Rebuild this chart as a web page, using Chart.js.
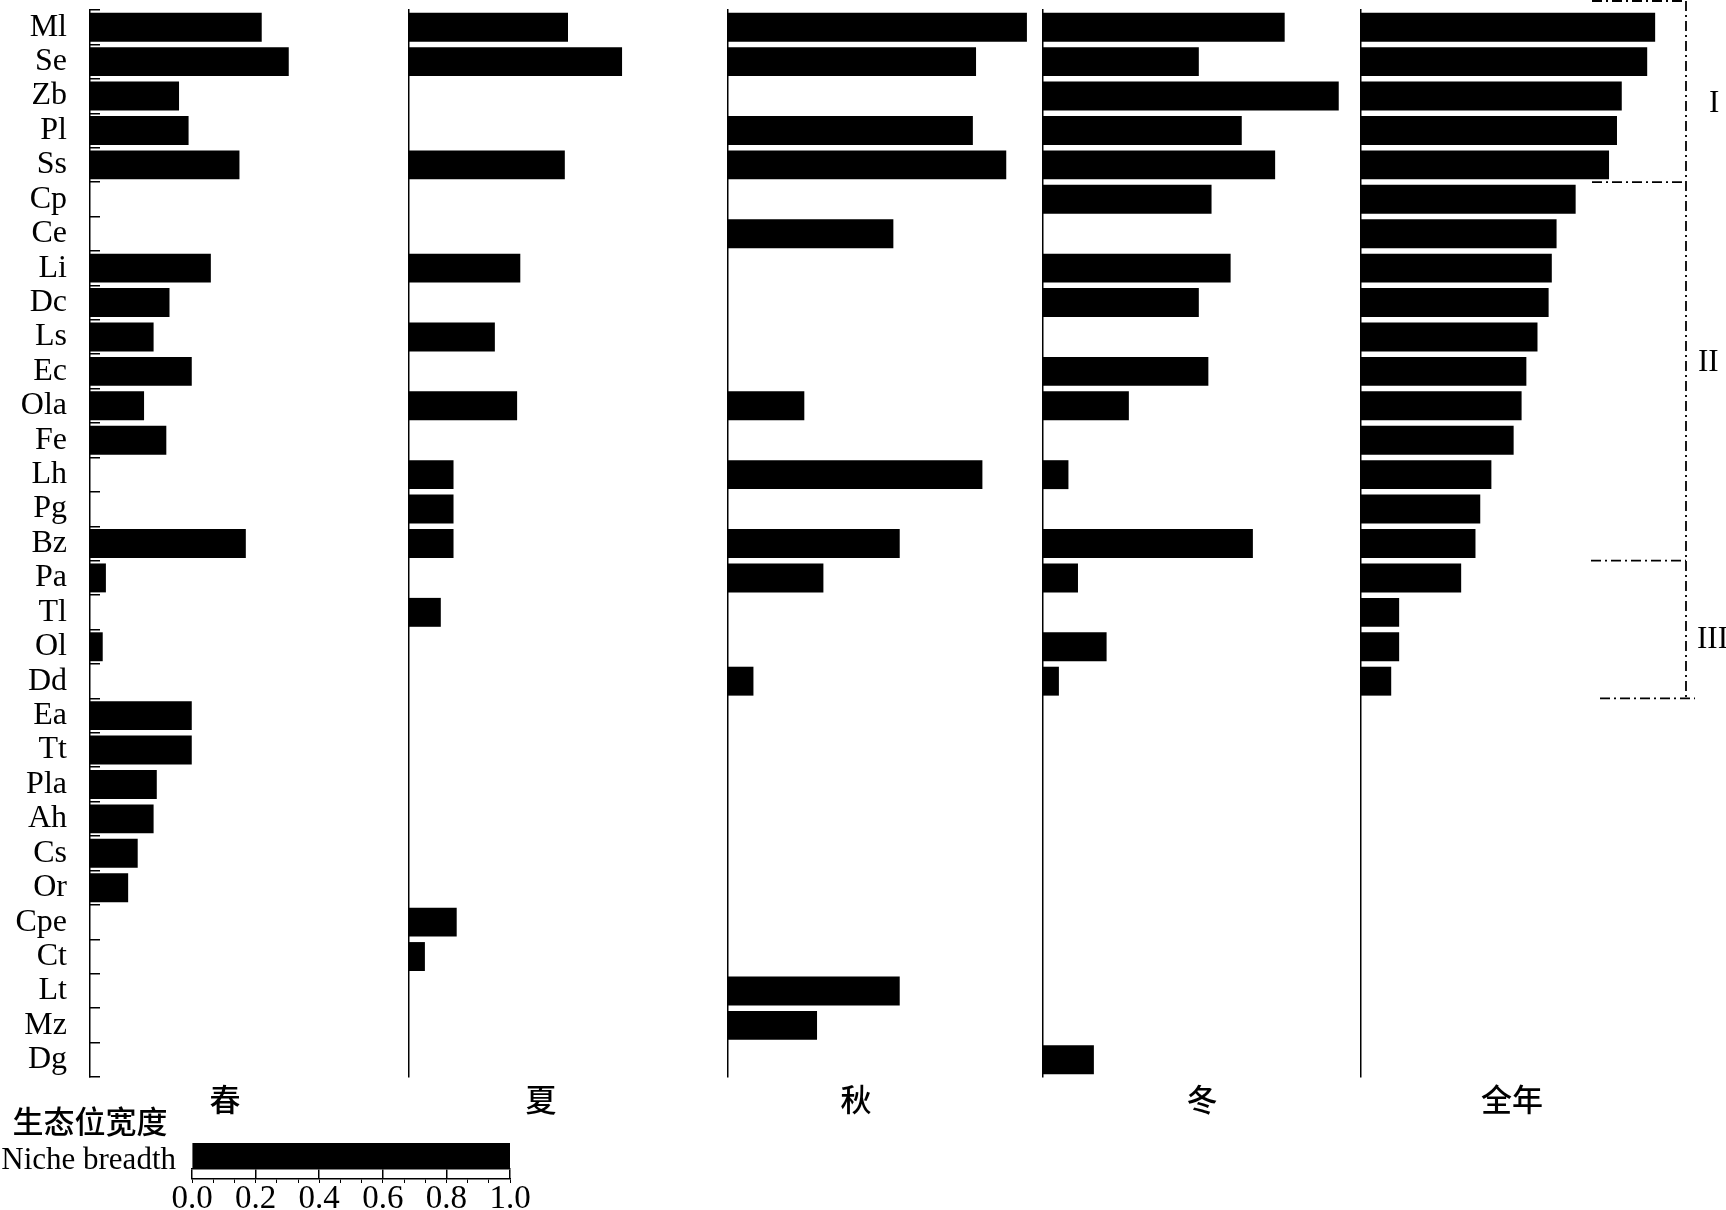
<!DOCTYPE html>
<html>
<head>
<meta charset="utf-8">
<script src="https://cdn.jsdelivr.net/npm/chart.js@4.4.1/dist/chart.umd.min.js"></script>
<style>
body{margin:0;background:#fff;width:1726px;height:1210px;overflow:hidden;position:relative;font-family:"Liberation Serif",serif;color:#000}
canvas{position:absolute}
.t{position:absolute;white-space:nowrap;line-height:1}
.cn{font-family:"Noto Sans CJK SC";font-size:31px;font-weight:500;transform:translate(-50%,-50%)}
.rm{font-size:31px;transform:translateY(-50%)}
</style>
</head>
<body>
<canvas id="spring"></canvas>
<canvas id="summer"></canvas>
<canvas id="autumn"></canvas>
<canvas id="winter"></canvas>
<canvas id="annual"></canvas>
<canvas id="legend"></canvas>

<div class="t cn" style="left:225px;top:1097px">春</div>
<div class="t cn" style="left:541px;top:1097px">夏</div>
<div class="t cn" style="left:856px;top:1097px">秋</div>
<div class="t cn" style="left:1202px;top:1097px">冬</div>
<div class="t cn" style="left:1512px;top:1097px">全年</div>
<div class="t cn" style="left:90px;top:1119px">生态位宽度</div>
<div class="t rm" style="right:1550px;top:1158px">Niche breadth</div>
<div class="t rm" style="left:1709px;top:101px">I</div>
<div class="t rm" style="left:1698px;top:360px">II</div>
<div class="t rm" style="left:1697px;top:637px">III</div>

<script>
const categories = ['Ml','Se','Zb','Pl','Ss','Cp','Ce','Li','Dc','Ls','Ec','Ola','Fe','Lh','Pg','Bz','Pa','Tl','Ol','Dd','Ea','Tt','Pla','Ah','Cs','Or','Cpe','Ct','Lt','Mz','Dg'];

const springVals = [0.54,0.625,0.28,0.31,0.47,0,0,0.38,0.25,0.20,0.32,0.17,0.24,0,0,0.49,0.05,0,0.04,0,0.32,0.32,0.21,0.20,0.15,0.12,0,0,0,0,0];
const summerVals = [0.50,0.67,0,0,0.49,0,0,0.35,0,0.27,0,0.34,0,0.14,0.14,0.14,0,0.10,0,0,0,0,0,0,0,0,0.15,0.05,0,0,0];
const autumnVals = [0.94,0.78,0,0.77,0.875,0,0.52,0,0,0,0,0.24,0,0.80,0,0.54,0.30,0,0,0.08,0,0,0,0,0,0,0,0,0.54,0.28,0];
const winterVals = [0.76,0.49,0.93,0.625,0.73,0.53,0,0.59,0.49,0,0.52,0.27,0,0.08,0,0.66,0.11,0,0.20,0.05,0,0,0,0,0,0,0,0,0,0,0.16];
const annualVals = [0.925,0.90,0.82,0.805,0.78,0.675,0.615,0.60,0.59,0.555,0.52,0.505,0.48,0.41,0.375,0.36,0.315,0.12,0.12,0.095,0,0,0,0,0,0,0,0,0,0,0];

// rows where each group (I, II, III) starts, plus the end of the last one
const groupEdges = [0, 5, 16, 20];

const legendValue = [1];
const legendTickLabels = ['0.0','0.2','0.4','0.6','0.8','1.0'];

const FONT = 'Liberation Serif';
const SPAN = 318;   // pixels for 0..1

// dash-dot bracket on the right of the annual panel
const bracket = {
  id: 'bracket',
  afterDraw(chart) {
    const ctx = chart.ctx, y = chart.scales.y, L = chart.chartArea.left;
    const half = (y.getPixelForValue(1) - y.getPixelForValue(0)) / 2;
    const edge = i => y.getPixelForValue(i) - half;
    const vx = L + 325;
    ctx.save();
    ctx.strokeStyle = '#000';
    ctx.lineWidth = 1.8;
    ctx.setLineDash([10, 4, 2, 4]);
    const top = edge(groupEdges[0]) - 9;
    const bottom = edge(groupEdges[3]);
    ctx.beginPath();
    ctx.moveTo(vx, top); ctx.lineTo(vx, bottom);
    ctx.moveTo(L + 231, top); ctx.lineTo(vx, top);
    ctx.moveTo(L + 231, edge(groupEdges[1])); ctx.lineTo(vx, edge(groupEdges[1]));
    ctx.moveTo(L + 230, edge(groupEdges[2])); ctx.lineTo(vx, edge(groupEdges[2]));
    ctx.moveTo(L + 239, bottom); ctx.lineTo(L + 334, bottom);
    ctx.stroke();
    ctx.restore();
  }
};

function panel(id, axisX, width, vals, first, extra) {
  const cv = document.getElementById(id);
  cv.width = width; cv.height = 1090;
  cv.style.left = (axisX - 90) + 'px';
  cv.style.top = '0px';
  return new Chart(cv, {
    type: 'bar',
    data: {
      labels: categories,
      datasets: [{ data: vals, backgroundColor: '#000', borderWidth: 0, barPercentage: 0.84, categoryPercentage: 1 }]
    },
    options: {
      indexAxis: 'y',
      responsive: false,
      animation: false,
      layout: { padding: { top: 10, bottom: 13, left: 0, right: width - 90 - SPAN } },
      plugins: { legend: { display: false }, tooltip: { enabled: false } },
      scales: {
        x: { display: false, min: 0, max: 1 },
        y: {
          afterFit: s => { s.width = 90; s.paddingTop = 0; s.paddingBottom = 0; },
          border: { display: true, color: '#000', width: 1.5 },
          grid: { display: true, drawOnChartArea: false, drawTicks: first, tickLength: -10, color: '#000', lineWidth: 1.5, offset: true },
          ticks: { display: first, autoSkip: false, color: '#000', padding: 33, font: { family: FONT, size: 32 } }
        }
      }
    },
    plugins: extra ? [extra] : []
  });
}

panel('spring', 90, 420, springVals, true);
panel('summer', 409, 420, summerVals, false);
panel('autumn', 728, 420, autumnVals, false);
panel('winter', 1043, 420, winterVals, false);
panel('annual', 1361, 1726 - 1361 + 90, annualVals, false, bracket);

// legend scale bar
const lg = document.getElementById('legend');
lg.width = 400; lg.height = 100;
lg.style.left = '150px'; lg.style.top = '1130px';
const minorTicks = [];
for (let i = 0; i <= 15; i++) minorTicks.push(i * 0.2 / 3);

new Chart(lg, {
  type: 'bar',
  data: {
    labels: ['Niche breadth'],
    datasets: [{ data: legendValue, backgroundColor: '#000', borderWidth: 0, barPercentage: 1, categoryPercentage: 1 }]
  },
  options: {
    indexAxis: 'y',
    responsive: false,
    animation: false,
    layout: { padding: { left: 42, right: 40, top: 13, bottom: 11 } },
    plugins: { legend: { display: false }, tooltip: { enabled: false } },
    scales: {
      y: { display: false },
      x: {
        min: 0, max: 1, weight: 0,
        afterFit: s => { s.height = 10; },
        border: { display: true, color: '#000', width: 1.5 },
        grid: { drawOnChartArea: false, tickLength: 10, color: '#000', lineWidth: 1.5 },
        ticks: { display: false, stepSize: 0.2 }
      },
      x2: {
        type: 'linear', position: 'bottom', min: 0, max: 1, weight: 1,
        afterFit: s => { s.height = 40; },
        afterBuildTicks: s => { s.ticks = minorTicks.map(v => ({ value: v })); },
        border: { display: true, color: '#000', width: 1.5 },
        grid: { drawOnChartArea: false, tickLength: 4, color: '#000', lineWidth: 1 },
        ticks: {
          autoSkip: false, maxRotation: 0, padding: -3, color: '#000',
          font: { family: FONT, size: 33 },
          callback: v => {
            const k = Math.round(v * 5);
            return Math.abs(v * 5 - k) < 1e-6 ? legendTickLabels[k] : '';
          }
        }
      }
    }
  }
});
</script>
</body>
</html>
